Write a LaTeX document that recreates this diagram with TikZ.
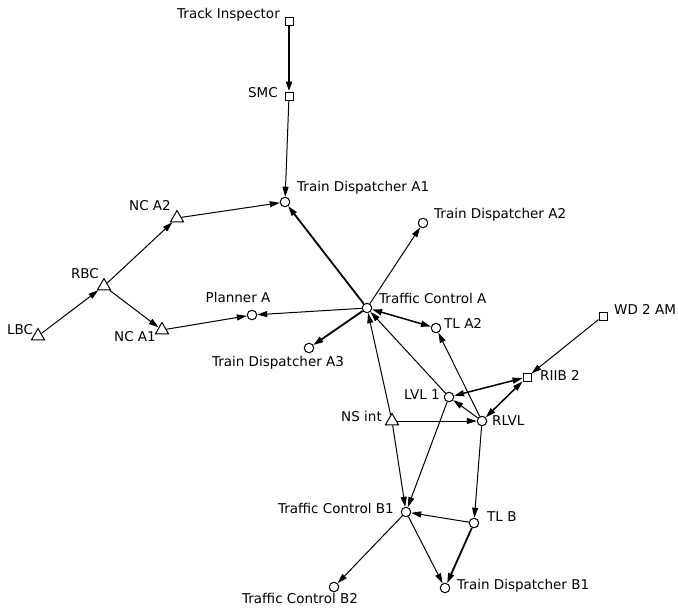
\documentclass[tikz,border=0pt]{standalone}
\usepackage{fontspec}
\setmainfont{DejaVu Sans}
\usetikzlibrary{arrows.meta,shapes.geometric}
\begin{document}
\begin{tikzpicture}[x=1pt,y=-1pt,
  circ/.style={circle,draw,fill=white,minimum size=9.5pt,inner sep=0pt,line width=1pt},
  sq/.style={rectangle,draw,fill=white,minimum size=8pt,inner sep=0pt,line width=1pt},
  tri/.style={regular polygon,regular polygon sides=3,draw,fill=white,minimum size=15pt,inner sep=0pt,line width=1pt},
  lbl/.style={inner sep=0pt,font=\fontsize{13.5}{16}\selectfont},
  edge/.style={line width=1pt,-{Triangle[length=10pt,width=6pt]}},
  bedge/.style={line width=1pt,{Triangle[length=10pt,width=6pt]}-{Triangle[length=10pt,width=6pt]}},
  thk/.style={line width=1.8pt},
  thkk/.style={line width=2.4pt}]
\useasboundingbox (0,0) rectangle (678,611);
% nodes
\node[sq]   (ti)   at (289,21)  {};
\node[sq]   (smc)  at (289,96)  {};
\node[circ] (tda1) at (285,202) {};
\node[circ] (tda2) at (423,223) {};
\node[tri]  (nca2) at (177,218) {};
\node[tri]  (rbc)  at (104,286) {};
\node[tri]  (lbc)  at (38,336)  {};
\node[tri]  (nca1) at (162,330) {};
\node[circ] (pla)  at (252,315) {};
\node[circ] (tca)  at (367,308) {};
\node[circ] (tda3) at (309,348) {};
\node[circ] (tla2) at (436,328) {};
\node[sq]   (wd)   at (603,316) {};
\node[sq]   (riib) at (527,377) {};
\node[circ] (lvl)  at (449,397) {};
\node[circ] (rlvl) at (482,421) {};
\node[tri]  (ns)   at (392,421) {};
\node[circ] (tcb1) at (406,512) {};
\node[circ] (tlb)  at (474,523) {};
\node[circ] (tcb2) at (334,587) {};
\node[circ] (tdb1) at (445,588) {};
% labels
\node[lbl,anchor=mid east] (lti)   at (280,16)  {Track Inspector};
\node[lbl,anchor=mid east] (lsmc)  at (278,95)  {SMC};
\node[lbl,anchor=mid west] (ltda1) at (297,189) {Train Dispatcher A1};
\node[lbl,anchor=mid west] (ltda2) at (434,216) {Train Dispatcher A2};
\node[lbl,anchor=mid west] (ltca)  at (379,301) {Traffic Control A};
\node[lbl,anchor=mid]      (lpla)  at (238,300) {Planner A};
\node[lbl,anchor=mid]      (ltda3) at (278,364) {Train Dispatcher A3};
\node[lbl,anchor=mid west] (ltla2) at (444,326) {TL A2};
\node[lbl,anchor=mid west] (lwd)   at (614,312) {WD 2 AM};
\node[lbl,anchor=mid west] (lriib) at (540,378) {RIIB 2};
\node[lbl,anchor=mid east] (llvl)  at (440,397) {LVL 1};
\node[lbl,anchor=mid west] (lrlvl) at (492,423) {RLVL};
\node[lbl,anchor=mid east] (lns)   at (382,419) {NS int};
\node[lbl,anchor=mid east] (ltcb1) at (394,511) {Traffic Control B1};
\node[lbl,anchor=mid west] (ltlb)  at (487,519) {TL B};
\node[lbl,anchor=mid]      (ltcb2) at (300,601) {Traffic Control B2};
\node[lbl,anchor=mid west] (ltdb1) at (457,587) {Train Dispatcher B1};
\node[lbl,anchor=mid]      (lnca2) at (150,208) {NC A2};
\node[lbl,anchor=mid]      (lrbc)  at (85,276)  {RBC};
\node[lbl,anchor=mid]      (llbc)  at (20,332)  {LBC};
\node[lbl,anchor=mid]      (lnca1) at (135,339) {NC A1};
% edges
\draw[edge,thkk] (ti) -- (smc);
\draw[edge] (smc) -- (tda1);
\draw[edge] (nca2) -- (tda1);
\draw[edge,thk] (tca) -- (tda1);
\draw[edge] (tca) -- (tda2);
\draw[edge] (rbc) -- (nca2);
\draw[edge] (lbc) -- (rbc);
\draw[edge] (rbc) -- (nca1);
\draw[edge] (nca1) -- (pla);
\draw[edge] (tca) -- (pla);
\draw[edge,thk] (tca) -- (tda3);
\draw[bedge,line width=1.5pt] (tca) -- (tla2);
\draw[edge] (ns) -- (tca);
\draw[edge] (lvl) -- (tca);
\draw[edge] (rlvl) -- (tla2);
\draw[edge] (rlvl) -- (lvl);
\draw[bedge,line width=1.5pt] (lvl) -- (riib);
\draw[bedge,line width=1.5pt] (rlvl) -- (riib);
\draw[edge] (wd) -- (riib);
\draw[edge] (ns) -- (rlvl);
\draw[edge] (ns) -- (tcb1);
\draw[edge] (lvl) -- (tcb1);
\draw[edge] (rlvl) -- (tlb);
\draw[edge] (tlb) -- (tcb1);
\draw[edge,thk] (tlb) -- (tdb1);
\draw[edge] (tcb1) -- (tdb1);
\draw[edge] (tcb1) -- (tcb2);
\end{tikzpicture}
\end{document}
